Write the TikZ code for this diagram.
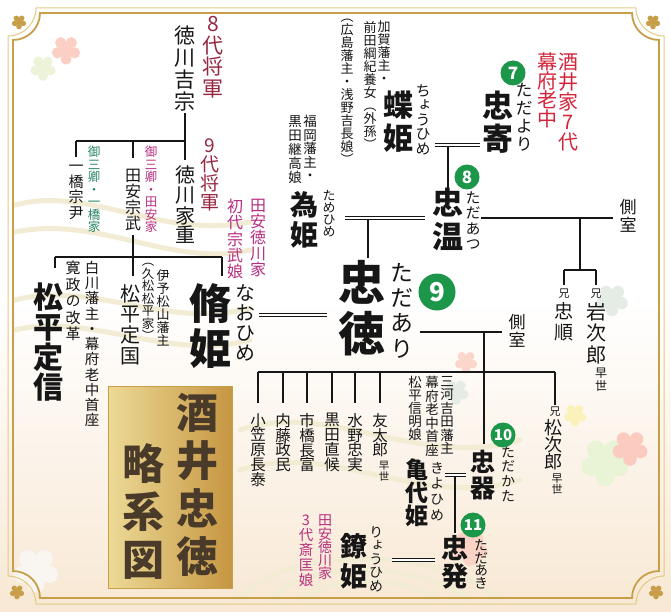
\documentclass[tikz,border=0pt]{standalone}
\usepackage{fontspec}
\setmainfont{Noto Sans CJK JP}[RawFeature=+vert]
\usepackage{tikz}
\usepackage{xcolor}

\definecolor{ink}{RGB}{22,22,22}
\definecolor{shogun}{RGB}{150,40,66}
\definecolor{rouju}{RGB}{212,36,58}
\definecolor{tayasu}{RGB}{182,46,126}
\definecolor{hitotsu}{RGB}{40,134,100}
\definecolor{genc}{RGB}{28,150,72}
\definecolor{kgold}{RGB}{200,158,72}
\definecolor{kgoldl}{RGB}{226,202,132}
\definecolor{paper}{RGB}{248,232,212}
\definecolor{tbrown}{RGB}{74,58,42}
\definecolor{boxl}{RGB}{236,218,150}
\definecolor{boxd}{RGB}{198,150,66}
\definecolor{wavec}{RGB}{242,236,212}

% font size in pt, set solid
\newcommand\fsz[1]{\fontsize{#1}{#1}\selectfont}
% vertical (tategaki) column: \tate[pitch in em]{size}{text}
\newcommand\tateend{TATE}
\newcommand\tateloop[1]{\ifx#1\tateend\else\hbox to 1em{\hss#1\hss}\expandafter\tateloop\fi}
\newcommand\tate[3][1.04]{\vbox{\fsz{#2}\baselineskip=#1em\lineskip=0pt\lineskiplimit=-\maxdimen\expandafter\tateloop#3\tateend}}
% five petal flower: x, y, petal radius, colour
\newcommand\hana[4]{\foreach \a in {90,162,234,306,378}{\fill[#4] (#1,#2) ++(\a:#3) circle[radius=0.62*#3];}\fill[#4] (#1,#2) circle[radius=0.7*#3];}

\tikzstyle{nm} = [inner sep=0, anchor=north, text=ink, font=\bfseries]
\tikzstyle{nmr} = [inner sep=0, anchor=north, text=ink]
\tikzstyle{yomi} = [inner sep=0, anchor=north, text=ink]
\tikzstyle{note} = [inner sep=0, anchor=north, text=ink]
\tikzstyle{gen} = [circle, fill=genc, text=white, inner sep=0, font=\bfseries]
\tikzstyle{tree} = [draw, line width=1.3pt, color=ink]
\tikzstyle{wed} = [draw, color=ink, line width=0.9pt, double=white, double distance=2.2pt]
\tikzstyle{wave} = [draw, color=wavec, line width=5pt, line cap=round]

\begin{document}
\begin{tikzpicture}[x=1pt,y=-1pt]
\useasboundingbox (0,0) rectangle (671,612);

% paper
\fill[white] (0,0) rectangle (671,300);
\fill[top color=white, bottom color=paper] (0,300) rectangle (671,612);

% waves and flowers in the background
\draw[wave] (15,205) .. controls (90,185) and (160,240) .. (250,222);
\draw[wave] (15,232) .. controls (100,215) and (170,268) .. (250,250);
\draw[wave] (15,300) .. controls (90,280) and (170,330) .. (250,308);
\draw[wave] (15,330) .. controls (90,312) and (170,362) .. (250,340);
\draw[wave] (240,430) .. controls (330,400) and (420,470) .. (520,440);
\draw[wave] (240,470) .. controls (330,440) and (420,510) .. (520,480);
\draw[wave] (270,600) .. controls (300,560) and (420,560) .. (470,600);
\draw[wave] (300,600) .. controls (330,575) and (400,575) .. (440,600);
\draw[wave] (240,600) .. controls (280,545) and (440,545) .. (500,600);
\hana{66}{50}{9}{red!20!paper!70}
\hana{43}{68}{8}{green!10!paper!60}
\hana{612}{300}{10}{cyan!15!paper!60}
\hana{466}{362}{7}{red!15!paper!70}
\hana{456}{392}{8}{cyan!15!paper!60}
\hana{575}{415}{7}{yellow!25!paper!70}
\hana{605}{462}{15}{green!12!paper!60}
\hana{630}{448}{11}{red!22!paper!70}
\hana{470}{548}{11}{red!18!paper!70}
\hana{36}{570}{14}{paper!90!black!20}

% gold frame
\draw[kgoldl, line width=1pt] (36,8) -- (636,8) arc[start angle=180,end angle=90,radius=28] -- (664,576) arc[start angle=270,end angle=180,radius=28] -- (36,604) arc[start angle=0,end angle=-90,radius=28] -- (8,36) arc[start angle=90,end angle=0,radius=28] -- cycle;
\draw[kgold, line width=1.8pt] (40,13) -- (632,13) arc[start angle=180,end angle=90,radius=27] -- (659,571) arc[start angle=270,end angle=180,radius=27] -- (40,598) arc[start angle=0,end angle=-90,radius=27] -- (13,40) arc[start angle=90,end angle=0,radius=27] -- cycle;
\hana{19}{22}{4.5}{kgold}
\hana{653}{22}{4.5}{kgold}
\hana{17}{592}{4.5}{kgold}
\hana{656}{592}{4.5}{kgold}

% title plate
\shade[left color=boxl, right color=boxd, draw=kgold, line width=0.8pt] (108,386) rectangle (232,588);
\node[nm, text=tbrown] (title1) at (197,393) {\tate[1.14]{42}{酒井忠徳}};
\node[nm, text=tbrown] (title2) at (143,443) {\tate[1.15]{42}{略系図}};

% Tokugawa side
\node[nmr] (yoshimune) at (185,26) {\tate[1.04]{21}{徳川吉宗}};
\node[note, text=shogun] (shogun8) at (213,16) {\tate[1.03]{21}{8代将軍}};
\node[note, text=hitotsu] (gosankyo1) at (94,146) {\tate[1.0]{12.5}{御三卿・一橋家}};
\node[note, text=tayasu] (gosankyo2) at (151,146) {\tate[1.0]{12.5}{御三卿・田安家}};
\node[nmr] (munetada) at (76,165) {\tate[1.03]{15}{一橋宗尹}};
\node[nmr] (munetake) at (133,169) {\tate[1.0]{16}{田安宗武}};
\node[nmr] (ieshige) at (185,166) {\tate[1.0]{20}{徳川家重}};
\node[note, text=shogun] (shogun9) at (210,139) {\tate[1.0]{19}{9代将軍}};

\node[nm] (sadanobu) at (48,283) {\tate[1.0]{30}{松平定信}};
\node[note] (sadanobun1) at (92,261) {\tate[1.05]{14.5}{白川藩主・幕府老中首座}};
\node[note] (sadanobun2) at (73,261) {\tate[1.1]{15}{寛政の改革}};
\node[note] (sadakunin1) at (163,269) {\tate[1.0]{13}{伊予松山藩主}};
\node[note] (sadakunin2) at (148,263) {\tate[1.0]{12.5}{（久松松平家）}};
\node[nmr] (sadakuni) at (130,284) {\tate[1.04]{20}{松平定国}};

\node[nm] (naoh) at (210,283) {\tate[1.07]{42}{脩姫}};
\node[yomi] (naohr) at (245,284) {\tate[1.0]{20}{なおひめ}};
\node[note, text=tayasu] (naohn1) at (258,199) {\tate[1.0]{16}{田安徳川家}};
\node[note, text=tayasu] (naohn2) at (235,199) {\tate[1.02]{16}{初代宗武娘}};

% Sakai 7th and 8th
\node[nm] (tadayori) at (498,91) {\tate[1.05]{31}{忠寄}};
\node[yomi] (r7) at (524,83) {\tate[1.05]{17}{ただより}};
\node[gen, minimum size=25pt, font=\bfseries\fsz{17}] (g7) at (513,73) {7};
\node[note, text=rouju] (rouju1) at (568,53) {\tate[1.0]{20}{酒井家7代}};
\node[note, text=rouju] (rouju2) at (547,53) {\tate[0.95]{20}{幕府老中}};

\node[nm] (choh) at (398,91) {\tate[1.08]{30}{蝶姫}};
\node[yomi] (chohr) at (423,84) {\tate[0.97]{15}{ちょうひめ}};
\node[note] (chohn1) at (384,21) {\tate[1.0]{13}{加賀藩主・}};
\node[note] (chohn2) at (370,21) {\tate[1.0]{13}{前田綱紀養女（外孫）}};
\node[note] (chohn3) at (347,19) {\tate[1.0]{13}{（広島藩主・浅野吉長娘）}};

\node[nm] (tadaatsu) at (448,188) {\tate[1.1]{31}{忠温}};
\node[yomi] (r8) at (473,191) {\tate[1.04]{15}{ただあつ}};
\node[gen, minimum size=25pt, font=\bfseries\fsz{17}] (g8) at (467,177) {8};
\node[nm] (tameh) at (304,191) {\tate[1.07]{28}{為姫}};
\node[yomi] (tamehr) at (329,190) {\tate[0.92]{13}{ためひめ}};
\node[note] (tamehn1) at (310,115) {\tate[1.0]{13.5}{福岡藩主・}};
\node[note] (tamehn2) at (295,115) {\tate[1.04]{13.5}{黒田継高娘}};

\node[note] (side1) at (628,199) {\tate[1.05]{17}{側室}};
\node[note] (ani1) at (564,289) {\tate{11}{兄}};
\node[note] (ani2) at (596,289) {\tate{11}{兄}};
\node[nmr] (tadayuki) at (564,302) {\tate[1.12]{19}{忠順}};
\node[nmr] (iwajiro) at (596,302) {\tate[1.08]{20}{岩次郎}};
\node[note] (sosei1) at (601,368) {\tate[1.05]{12}{早世}};

% 9th
\node[nm] (tadaari) at (362,260) {\tate[1.09]{47}{忠徳}};
\node[yomi] (r9) at (402,263) {\tate[1.1]{23}{ただあり}};
\node[gen, minimum size=37pt, font=\bfseries\fsz{26}] (g9) at (437,292) {9};
\node[note] (side2) at (517,314) {\tate[1.05]{17}{側室}};

\foreach \nm/\tx/\xx in {c1/小笠原長泰/258, c2/内藤政民/283, c3/市橋長富/307, c4/黒田直候/332, c5/水野忠実/355, c6/友太郎/380}
  \node[nmr] (\nm) at (\xx,413) {\tate[0.96]{15.5}{\tx}};
\node[note] (sosei2) at (384,461) {\tate[1.0]{10.5}{早世}};
\node[note] (ani3) at (555,407) {\tate{11}{兄}};
\node[nmr] (matsujiro) at (553,419) {\tate[0.95]{18}{松次郎}};
\node[note] (sosei3) at (557,474) {\tate[1.0]{11}{早世}};

% 10th and 11th
\node[note] (kiyohn1) at (447,376) {\tate[1.0]{13.5}{三河吉田藩主}};
\node[note] (kiyohn2) at (432,376) {\tate[1.0]{13.5}{幕府老中首座}};
\node[note] (kiyohn3) at (415,376) {\tate[0.97]{13.5}{松平信明娘}};
\node[nm] (kiyoh) at (417,459) {\tate[1.0]{23}{亀代姫}};
\node[yomi] (kiyohr) at (437,462) {\tate[1.12]{14}{きよひめ}};
\node[nm] (tadakata) at (483,450) {\tate[1.02]{25}{忠器}};
\node[yomi] (r10) at (508,446) {\tate[1.05]{14}{ただかた}};
\node[gen, minimum size=25pt, font=\bfseries\fsz{15}] (g10) at (503,435) {10};

\node[nm] (tadaaki) at (455,535) {\tate[1.04]{27}{忠発}};
\node[yomi] (r11) at (481,539) {\tate[0.92]{14}{ただあき}};
\node[gen, minimum size=25pt, font=\bfseries\fsz{15}] (g11) at (473,525) {11};
\node[nm] (ryoh) at (354,533) {\tate[1.12]{27}{鐐姫}};
\node[yomi] (ryohr) at (376,526) {\tate[0.97]{14}{りょうひめ}};
\node[note, text=tayasu] (ryohn1) at (325,515) {\tate[0.93]{14}{田安徳川家}};
\node[note, text=tayasu] (ryohn2) at (306,515) {\tate[1.03]{14.5}{3代斎匡娘}};

% lines: Tokugawa
\coordinate (yj) at (185,141);
\draw[tree, shorten <=2pt] (yoshimune) -- (yj);
\draw[tree] (yj -| munetada) -- (yj);
\draw[tree, shorten >=8pt] (yj -| munetada) -- (munetada);
\draw[tree, shorten >=11pt] (yj -| munetake) -- (munetake);
\draw[tree, shorten >=6pt] (yj) -- (ieshige);

\coordinate (tj) at (133,257);
\coordinate (sdn) at (55,268);
\coordinate (nbh) at (222,276);
\draw[tree, shorten <=4pt, shorten >=8pt] (munetake) -- (munetake |- sadakuni.north);
\draw[tree] (tj -| sdn) -- (tj -| nbh);
\draw[tree] (tj -| sdn) -- (sdn);
\draw[tree] (tj -| nbh) -- (nbh);

% lines: Sakai
\coordinate (m7) at (448,145);
\draw[tree] (m7) -- (tadaatsu);
\draw[wed, shorten <=4pt, shorten >=2pt] (m7 -| chohr.east) -- (m7 -| tadayori.west);

\coordinate (m8) at (368,218);
\draw[tree, shorten >=2pt] (m8) -- (m8 |- tadaari.north);
\draw[wed, shorten <=9pt, shorten >=7pt] (m8 -| tamehr.east) -- (m8 -| tadaatsu.west);

\coordinate (s1) at (580,218);
\coordinate (s1b) at (580,270);
\draw[tree, shorten >=6pt] (s1 -| r8.east) -- (s1 -| side1.west);
\draw[tree] (s1) -- (s1b);
\draw[tree] (s1b -| ani1) -- (s1b -| ani2);
\draw[tree, shorten >=4pt] (s1b -| ani1) -- (ani1);
\draw[tree, shorten >=4pt] (s1b -| ani2) -- (ani2);

\coordinate (m9) at (300,315);
\draw[wed, shorten <=4pt, shorten >=11pt] (m9 -| naohr.east) -- (m9 -| tadaari.west);

\coordinate (s2) at (484,332);
\coordinate (cj) at (484,372);
\draw[tree, shorten <=6pt, shorten >=6pt] (s2 -| r9.east) -- (s2 -| side2.west);
\draw[tree, shorten >=6pt] (s2) -- (s2 |- tadakata.north);
\draw[tree] (cj -| c1) -- (cj -| ani3);
\foreach \nm in {c1,c2,c3,c4,c5,c6}
  \draw[tree, shorten >=10pt] (cj -| \nm) -- (\nm);
\draw[tree, shorten >=2pt] (cj -| ani3) -- (ani3);

\coordinate (m10) at (455,475);
\draw[tree, shorten >=2pt] (m10) -- (tadaaki);
\draw[wed, shorten <=1pt, shorten >=4pt] (m10 -| kiyohr.east) -- (m10 -| tadakata.west);

\coordinate (m11) at (410,560);
\draw[wed, shorten <=9pt, shorten >=6pt] (m11 -| ryohr.east) -- (m11 -| tadaaki.west);

\end{tikzpicture}
\end{document}
